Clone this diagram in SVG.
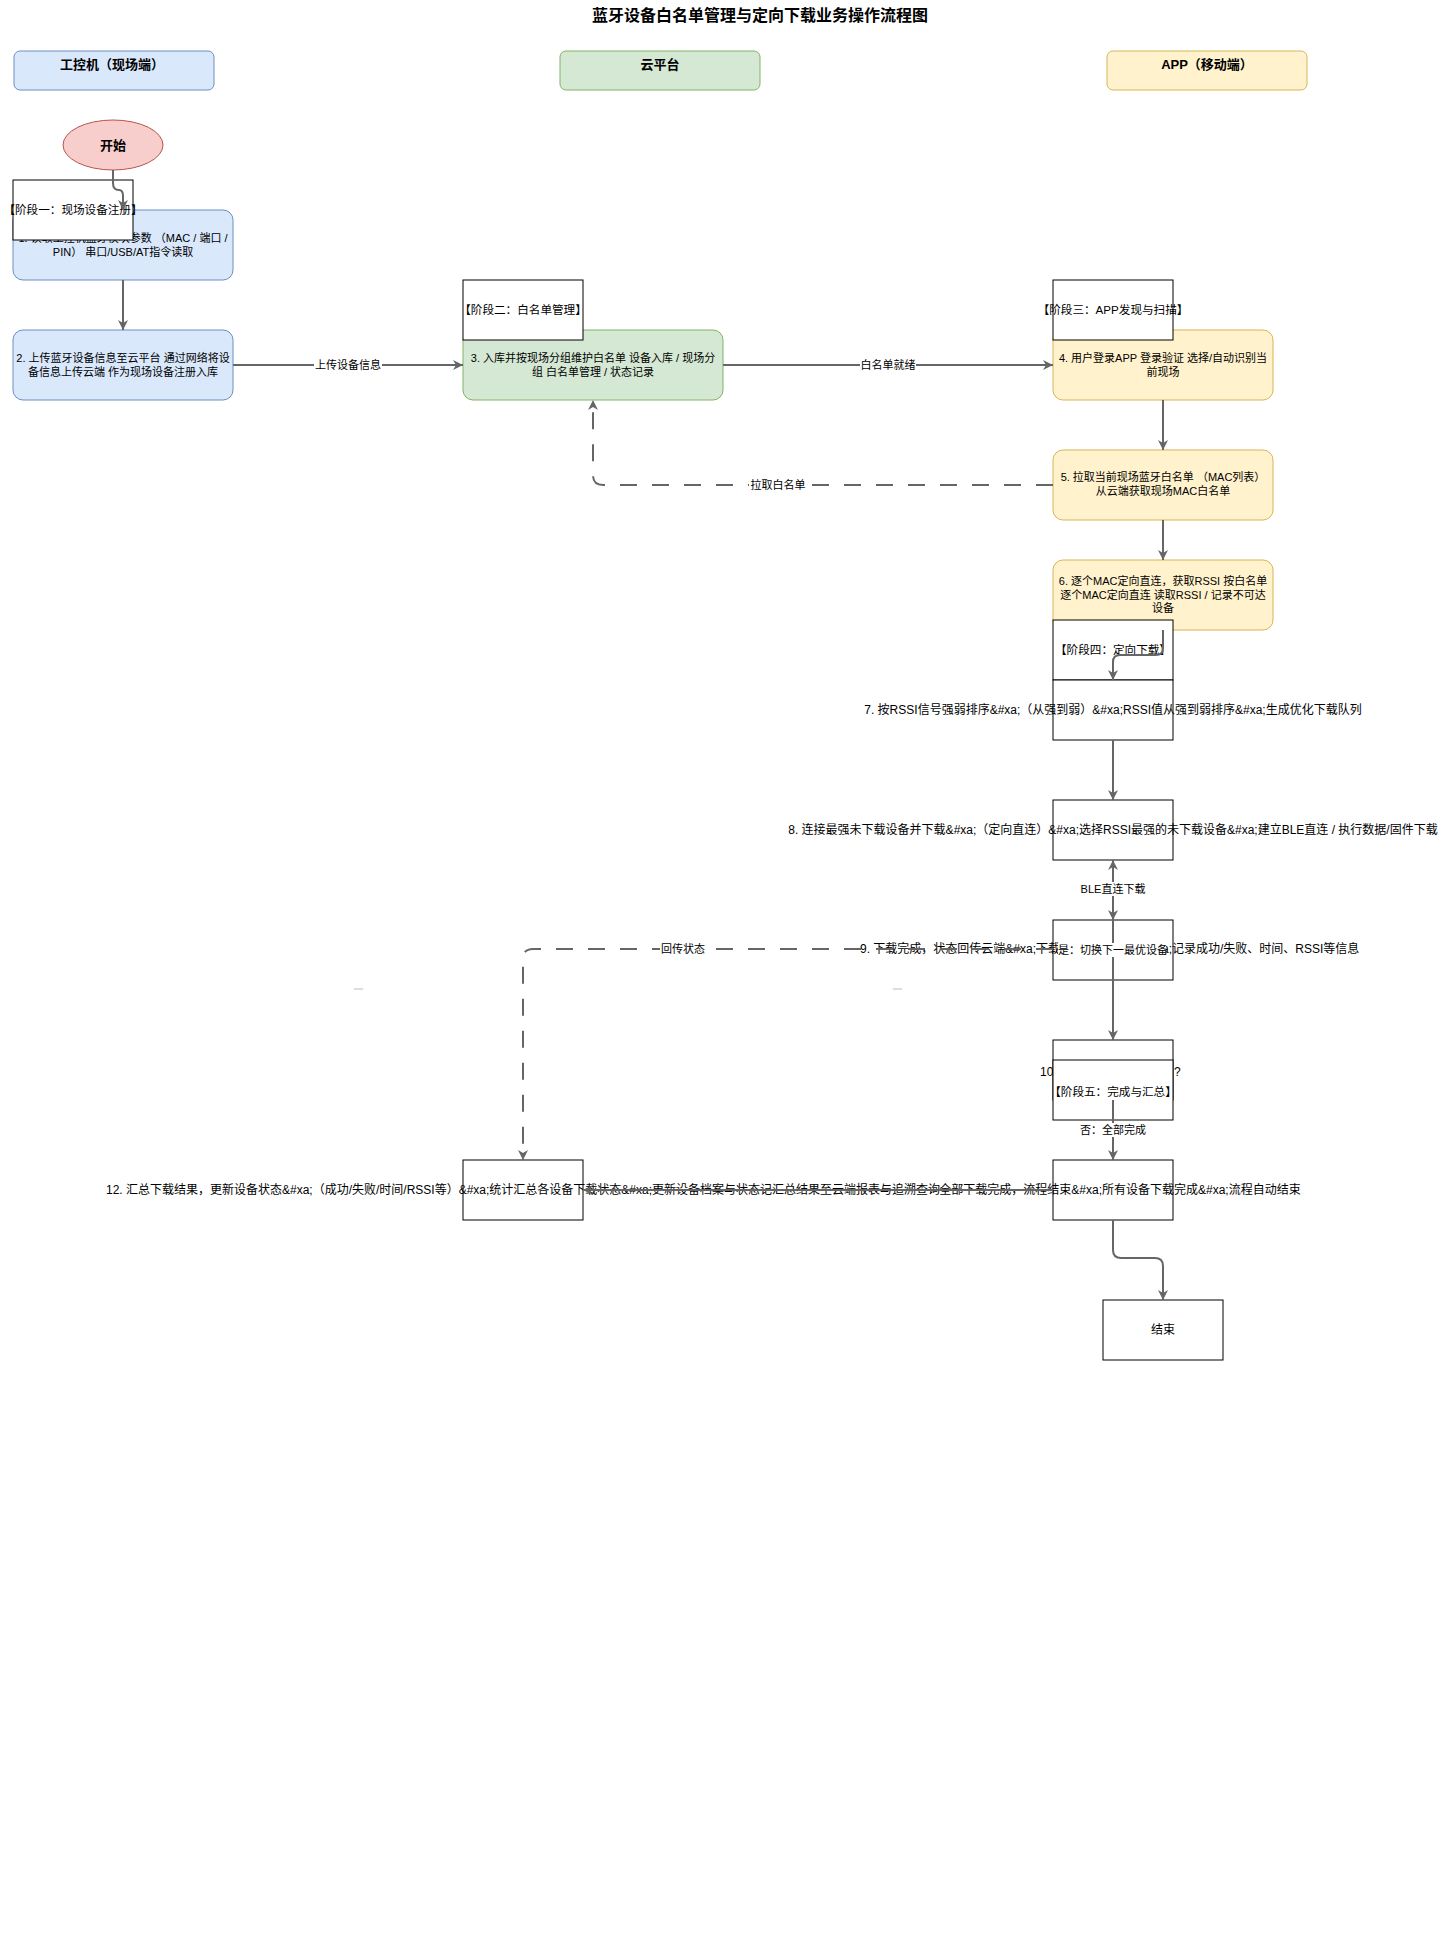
<svg xmlns="http://www.w3.org/2000/svg" width="1444" height="1941" viewBox="0 0 1444 1941">
<style>
text{font-family:"Liberation Sans","Noto Sans CJK SC",sans-serif;fill:#000;text-anchor:middle}
.s11{font-size:11px}
.s12{font-size:12px}
.sl{font-size:11.6px}
.hd{font-size:13px;font-weight:bold}
.bold{font-weight:bold}
.e{stroke:#666;stroke-width:2;fill:none}
.d{stroke-dasharray:17 15}
.stg{fill:#fff;stroke:#000;stroke-width:1}
.box{fill:#fff;stroke:#000;stroke-width:1}
.blue{fill:#dae8fc;stroke:#6c8ebf;stroke-width:1}
.green{fill:#d5e8d4;stroke:#82b366;stroke-width:1}
.yellow{fill:#fff2cc;stroke:#d6b656;stroke-width:1}
.lbg{fill:#fff}
</style>
<defs>
<marker id="a" viewBox="0 0 10 10" refX="10" refY="5" markerWidth="10" markerHeight="10" orient="auto" markerUnits="userSpaceOnUse"><path d="M0,0 L10,5 L0,10 L3,5 z" fill="#666"/></marker>
</defs>
<rect width="1444" height="1941" fill="#fff"/>
<text x="760" y="21" class="bold" style="font-size:16px">蓝牙设备白名单管理与定向下载业务操作流程图</text>

<g id="lane-ipc"><rect x="14" y="51" width="200" height="39" rx="6" class="blue"/><text x="112" y="69" class="hd">工控机（现场端）</text></g>
<g id="lane-cloud"><rect x="560" y="51" width="200" height="39" rx="6" class="green"/><text x="660" y="69" class="hd">云平台</text></g>
<g id="lane-app"><rect x="1107" y="51" width="200" height="39" rx="6" class="yellow"/><text x="1207" y="69" class="hd">APP（移动端）</text></g>

<g id="start"><ellipse cx="113" cy="145" rx="50" ry="25" fill="#f8cecc" stroke="#b85450"/><text x="113" y="150" class="hd">开始</text></g>

<g id="n1"><rect x="13" y="210" width="220" height="70" rx="10" class="blue"/>
<text x="123" y="242" class="s11">1. 读取工控机蓝牙模块参数 （MAC / 端口 /</text>
<text x="123" y="256" class="s11">PIN） 串口/USB/AT指令读取</text></g>
<g id="stage1"><rect x="13" y="180" width="120" height="60" class="stg"/><text x="73" y="214" class="sl">【阶段一：现场设备注册】</text></g>

<g id="n2"><rect x="13" y="330" width="220" height="70" rx="10" class="blue"/>
<text x="123" y="362" class="s11">2. 上传蓝牙设备信息至云平台 通过网络将设</text>
<text x="123" y="376" class="s11">备信息上传云端 作为现场设备注册入库</text></g>

<g id="n3"><rect x="463" y="330" width="260" height="70" rx="10" class="green"/>
<text x="593" y="362" class="s11">3. 入库并按现场分组维护白名单 设备入库 / 现场分</text>
<text x="593" y="376" class="s11">组 白名单管理 / 状态记录</text></g>
<g id="stage2"><rect x="463" y="280" width="120" height="60" class="stg"/><text x="523" y="314" class="sl">【阶段二：白名单管理】</text></g>

<g id="n4"><rect x="1053" y="330" width="220" height="70" rx="10" class="yellow"/>
<text x="1163" y="362" class="s11">4. 用户登录APP 登录验证 选择/自动识别当</text>
<text x="1163" y="376" class="s11">前现场</text></g>
<g id="stage3"><rect x="1053" y="280" width="120" height="60" class="stg"/><text x="1113" y="314" class="sl">【阶段三：APP发现与扫描】</text></g>

<g id="n5"><rect x="1053" y="450" width="220" height="70" rx="10" class="yellow"/>
<text x="1163" y="481" class="s11">5. 拉取当前现场蓝牙白名单 （MAC列表）</text>
<text x="1163" y="495" class="s11">从云端获取现场MAC白名单</text></g>

<g id="n6"><rect x="1053" y="560" width="220" height="70" rx="10" class="yellow"/>
<text x="1163" y="585" class="s11">6. 逐个MAC定向直连，获取RSSI 按白名单</text>
<text x="1163" y="599" class="s11">逐个MAC定向直连 读取RSSI / 记录不可达</text>
<text x="1163" y="612" class="s11">设备</text></g>
<g id="stage4"><rect x="1053" y="620" width="120" height="60" class="stg"/><text x="1113" y="654" class="sl">【阶段四：定向下载】</text></g>

<g id="n7"><rect x="1053" y="680" width="120" height="60" class="box"/><text x="1113" y="714" class="s12">7. 按RSSI信号强弱排序&amp;#xa;（从强到弱）&amp;#xa;RSSI值从强到弱排序&amp;#xa;生成优化下载队列</text></g>

<g id="n8"><rect x="1053" y="800" width="120" height="60" class="box"/><text x="1113" y="834" class="s12">8. 连接最强未下载设备并下载&amp;#xa;（定向直连）&amp;#xa;选择RSSI最强的未下载设备&amp;#xa;建立BLE直连 / 执行数据/固件下载</text></g>

<g id="n9"><rect x="1053" y="920" width="120" height="60" class="box"/>
<text x="1060" y="953" class="s12" style="text-anchor:end">9. 下载完成，状态回传云端&amp;#xa;下载</text>
<text x="1162" y="953" class="s12" style="text-anchor:start">a;记录成功/失败、时间、RSSI等信息</text></g>

<g id="n10"><rect x="1053" y="1040" width="120" height="60" class="box"/>
<text x="1040" y="1076" class="s12" style="text-anchor:start">10</text>
<text x="1174" y="1076" class="s12" style="text-anchor:start">?</text></g>
<g id="stage5"><rect x="1053" y="1060" width="120" height="60" class="stg"/><text x="1113" y="1096" class="sl">【阶段五：完成与汇总】</text></g>

<g id="n11"><rect x="1053" y="1160" width="120" height="60" class="box"/><text x="1120" y="1194" class="s12">全部下载完成，流程结束&amp;#xa;所有设备下载完成&amp;#xa;流程自动结束</text></g>

<g id="n12"><rect x="463" y="1160" width="120" height="60" class="box"/><text x="523" y="1194" class="s12">12. 汇总下载结果，更新设备状态&amp;#xa;（成功/失败/时间/RSSI等）&amp;#xa;统计汇总各设备下载状态&amp;#xa;更新设备档案与状态记汇总结果至云端报表与追溯查询</text></g>

<g id="end"><rect x="1103" y="1300" width="120" height="60" class="box"/><text x="1163" y="1334" class="s12">结束</text></g>

<g id="connectors">
<path class="e" d="M113,170 L113,183 Q113,190 119,190 Q123,190 123,196 L123,210" marker-end="url(#a)"/>
<path class="e" d="M123,280 L123,330" marker-end="url(#a)"/>
<path class="e" d="M233,365 L463,365" marker-end="url(#a)"/>
<rect class="lbg" x="314" y="358" width="68" height="14"/><text x="348" y="369" class="s11">上传设备信息</text>
<path class="e" d="M723,365 L1053,365" marker-end="url(#a)"/>
<rect class="lbg" x="860" y="358" width="56" height="14"/><text x="888" y="369" class="s11">白名单就绪</text>
<path class="e" d="M1163,400 L1163,450" marker-end="url(#a)"/>
<path class="e d" d="M1053,485 L603,485 Q593,485 593,475 L593,400" marker-end="url(#a)"/>
<rect class="lbg" x="749" y="478" width="58" height="14"/><text x="778" y="489" class="s11">拉取白名单</text>
<path class="e" d="M1163,520 L1163,560" marker-end="url(#a)"/>
<path class="e" d="M1163,630 L1163,648 Q1163,655 1156,655 L1120,655 Q1113,655 1113,662 L1113,680" marker-end="url(#a)"/>
<path class="e" d="M1113,740 L1113,800" marker-end="url(#a)"/>
<path class="e" d="M1113,860 L1113,920" marker-end="url(#a)"/>
<path class="e" d="M1113,1040 L1113,860" marker-end="url(#a)"/>
<rect class="lbg" x="1079" y="882" width="68" height="14"/><text x="1113" y="893" class="s11">BLE直连下载</text>
<rect class="lbg" x="1058" y="943" width="108" height="14"/><text x="1113" y="954" class="s11">是：切换下一最优设备</text>
<path class="e" d="M1113,980 L1113,1040" marker-end="url(#a)"/>
<path class="e d" d="M1053,949 L533,949 Q523,949 523,959 L523,1160" marker-end="url(#a)"/>
<rect class="lbg" x="660" y="942" width="46" height="14"/><text x="683" y="953" class="s11">回传状态</text>
<path class="e" d="M1113,1100 L1113,1160" marker-end="url(#a)"/>
<rect class="lbg" x="1079" y="1123" width="68" height="14"/><text x="1113" y="1134" class="s11">否：全部完成</text>
<path class="e" d="M1053,1190 L583,1190" marker-end="url(#a)"/>
<path class="e" d="M1113,1220 L1113,1250 Q1113,1258 1121,1258 L1155,1258 Q1163,1258 1163,1266 L1163,1300" marker-end="url(#a)"/>
<rect x="354" y="988" width="9" height="2" fill="#ddd"/>
<rect x="893" y="988" width="9" height="2" fill="#ddd"/>
</g>
</svg>
